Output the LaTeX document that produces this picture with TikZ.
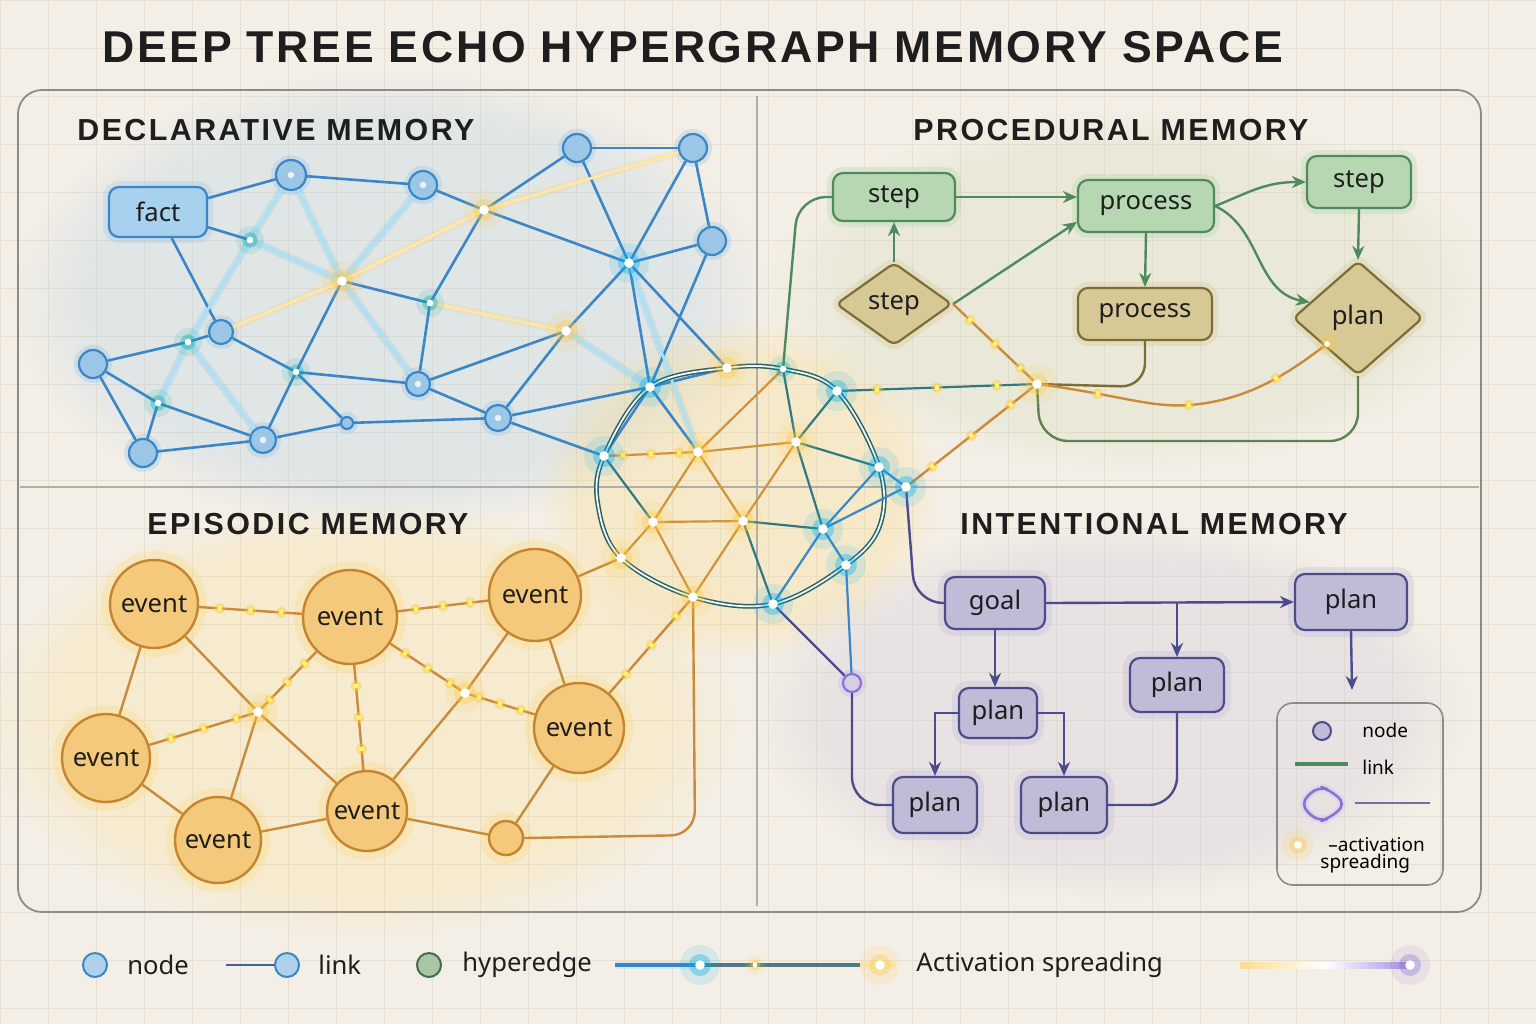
\documentclass[tikz,border=0pt]{standalone}
\usepackage{fontspec}
\setmainfont{Noto Sans}
\newfontfamily\titlefont[LetterSpace=6]{Liberation Sans}
\newfontfamily\sectfont[LetterSpace=8]{Liberation Sans}
\usetikzlibrary{shapes.geometric,arrows.meta,decorations.markings,calc,fadings}

\definecolor{bgc}{HTML}{F4EFE6}
\definecolor{gridc}{HTML}{E7E0D3}
\definecolor{framec}{HTML}{8E8B86}
\definecolor{ink}{HTML}{1E1E1E}
\definecolor{bline}{HTML}{3B86C6}
\definecolor{bfill}{HTML}{9CC6E6}
\definecolor{bfact}{HTML}{A8D0EF}
\definecolor{oline}{HTML}{C98A3A}
\definecolor{efill}{HTML}{F5C97C}
\definecolor{estroke}{HTML}{C5842E}
\definecolor{gold}{HTML}{FFC93C}
\definecolor{tline}{HTML}{2F7A80}
\definecolor{gline}{HTML}{4F8A5E}
\definecolor{gfill}{HTML}{B6D7B1}
\definecolor{tanfill}{HTML}{D6C995}
\definecolor{tanline}{HTML}{7C6D36}
\definecolor{pline}{HTML}{4C4C8C}
\definecolor{pfill}{HTML}{C1BBD7}
\definecolor{pglow}{HTML}{8C70D8}

\tikzset{
  secttitle/.style={anchor=west, inner sep=0pt, text=ink, font=\sectfont\bfseries\fontsize{15.2}{18}\selectfont},
  lbl/.style={font=\fontsize{12.8}{15}\selectfont, text=ink},
  tint/.style={path fading=circle with fuzzy edge 20 percent, fill opacity=#1},
  bnode/.style={circle, draw=bline, fill=bfill, line width=1.1pt, inner sep=0pt,
    preaction={draw=bfill, line width=5pt, opacity=.35}},
  factbox/.style={lbl, draw=bline, fill=bfact, line width=1.1pt, rounded corners=5pt,
    preaction={draw=bfill, line width=6pt, opacity=.3}},
  enode/.style={lbl, circle, draw=estroke, fill=efill, line width=1.2pt, inner sep=0pt,
    preaction={draw=gold!70, line width=9pt, opacity=.3}},
  gbox/.style={lbl, draw=gline, fill=gfill, line width=1.1pt, rounded corners=5pt,
    preaction={draw=gfill, line width=6pt, opacity=.35}},
  tbox/.style={lbl, draw=tanline, fill=tanfill, line width=1.1pt, rounded corners=5pt,
    preaction={draw=tanfill, line width=6pt, opacity=.35}},
  tdiam/.style={lbl, diamond, draw=tanline, fill=tanfill, line width=1.1pt, inner sep=1pt,
    rounded corners=3pt, preaction={draw=tanfill, line width=6pt, opacity=.35}},
  pbox/.style={lbl, draw=pline, fill=pfill, line width=1.1pt, rounded corners=5pt,
    preaction={draw=pfill, line width=7pt, opacity=.35}},
  blink/.style={draw=bline, line width=1.3pt},
  cbright/.style={preaction={draw=cyan!50!bline, line width=4pt, opacity=.12}, draw=white!65!cyan, line width=1.3pt},
  bright/.style={preaction={draw=gold, line width=4pt, opacity=.15}, draw=white!55!gold, line width=1.3pt},
  olink/.style={draw=oline, line width=1.2pt},
  hyO/.style={draw=oline!85!gold, line width=1.1pt},
  hyT/.style={draw=tline, line width=1.1pt},
  hyB/.style={draw=bline, line width=1.1pt},
  glink/.style={draw=gline, line width=1.2pt},
  garrow/.style={draw=gline, line width=1.2pt, -{Stealth[length=7pt,width=6pt]}},
  plink/.style={draw=pline, line width=1.2pt},
  parrow/.style={draw=pline, line width=1.2pt, -{Stealth[length=7pt,width=6pt]}},
  spark/.style={postaction={decorate, decoration={markings,
    mark=between positions 0.2 and 0.9 step 0.3 with {\fill[gold,opacity=.45] (0,0) circle (2.8pt);
      \fill[white!40!yellow] (0,0) circle (1.2pt);}}}},
  pics/glow/.style={code={\fill[#1,opacity=.12] (0,0) circle (10pt);
    \fill[#1,opacity=.35] (0,0) circle (5.5pt); \fill[white] (0,0) circle (2.4pt);}}
}

\begin{document}
\begin{tikzpicture}[x=0.5pt,y=-0.5pt]
\useasboundingbox (0,0) rectangle (1536,1024);
\fill[bgc] (0,0) rectangle (1536,1024);
\draw[gridc, line width=0.35pt, step=24pt] (0,0) grid (1536,1024);

% soft tints of the four regions
\fill[bfill, tint=.22] (390,300) ellipse (190pt and 115pt);
\fill[gold!70, tint=.2] (360,720) ellipse (190pt and 110pt);
\fill[gold!70, tint=.25] (740,490) ellipse (100pt and 85pt);
\fill[gfill!60!tanfill, tint=.2] (1130,290) ellipse (180pt and 90pt);
\fill[pfill, tint=.22] (1110,710) ellipse (180pt and 95pt);

% frame and quadrant dividers
\draw[framec, line width=0.9pt, rounded corners=12pt] (18,90) rectangle (1481,912);
\draw[framec!70, line width=0.8pt] (757,96) -- (757,906);
\draw[framec!70, line width=0.8pt] (20,487) -- (1479,487);

\node[anchor=west, inner sep=0pt, text=ink, font=\titlefont\bfseries\fontsize{22.3}{26}\selectfont] (title) at (102,47) {DEEP TREE ECHO HYPERGRAPH MEMORY SPACE};
\node[secttitle] (tdecl) at (77,130) {DECLARATIVE MEMORY};
\node[secttitle] (tproc) at (913,130) {PROCEDURAL MEMORY};
\node[secttitle] (tepis) at (147,524) {EPISODIC MEMORY};
\node[secttitle] (tinte) at (960,524) {INTENTIONAL MEMORY};

% declarative network
\node[factbox, minimum width=49pt, minimum height=25pt] (fact) at (158,212) {fact};
\foreach \n/\x/\y/\r in {n1/291/175/15, n2/423/185/14, n3/577/148/14, n4/693/148/14, n5/712/241/14,
  n6/93/364/14, n7/221/332/12, n8/143/453/14, n9/263/440/13, n10/418/384/12, n11/498/418/13, n12/347/423/6}
  \node[bnode, minimum size=\r pt] (\n) at (\x,\y) {};
\foreach \n/\x/\y in {g1/250/240, g2/342/281, g3/484/210, g4/629/263, g5/430/303, g6/566/331,
  g7/188/342, g8/296/372, g9/158/403}
  \coordinate (\n) at (\x,\y);

% hypergraph core
\foreach \n/\x/\y in {h1/650/387, h2/727/368, h3/783/369, h4/837/391, h5/604/456, h6/698/452,
  h7/796/442, h8/879/467, h9/906/487, h10/653/522, h11/743/521, h12/823/529, h13/621/558,
  h14/846/565, h15/693/597, h16/773/604}
  \coordinate (\n) at (\x,\y);
\coordinate (J) at (1037,384);

\foreach \a/\b in {fact/n1, fact/n7, fact/g1, n1/n2, n2/g3, g3/n3, n3/n4, n3/g4, n4/g4, n4/n5, n5/g4,
  g3/g4, g3/g5, g5/n10, g2/g5, g4/g6, g2/g8, n6/g7, g7/n7, n6/g9, n6/n8, g9/n8, g9/n9, n7/g8,
  g8/n9, g8/n12, g8/n10, n8/n9, n9/n12, n12/n11, n10/n11, n10/g6, n11/g6, n11/h1, n11/h5,
  n5/h1, g4/h1, g4/h2, h1/h2, h1/h5, h1/h6}
  \draw[blink] (\a) -- (\b);
\foreach \a/\b in {n1/g1, g1/g7, g7/g9, n1/g2, n2/g2, g1/g2, g2/n10, g6/h1, g4/h6, g7/n9}
  \draw[cbright] (\a) -- (\b);
\foreach \a/\b in {g2/g3, g3/n4, g2/n7, g5/g6}
  \draw[bright] (\a) -- (\b);

\draw[tline!80!black, line width=2.4pt] plot[smooth cycle, tension=.6]
  coordinates {(h2) (h3) (h4) (h8) (880,525) (h14) (h16) (h15) (h13) (598,505) (h5) (h1)};
\draw[bgc!60!white, line width=0.9pt] plot[smooth cycle, tension=.6]
  coordinates {(h2) (h3) (h4) (h8) (880,525) (h14) (h16) (h15) (h13) (598,505) (h5) (h1)};

\foreach \a/\b in {h3/h6, h6/h7, h6/h10, h6/h11, h7/h11, h10/h11, h10/h13, h10/h15, h11/h15}
  \draw[hyO] (\a) -- (\b);
\draw[hyO, spark] (h5) -- (h6);
\foreach \a/\b in {h3/h7, h4/h7, h7/h8, h7/h12, h11/h12, h11/h16, h5/h10}
  \draw[hyT] (\a) -- (\b);
\foreach \a/\b in {h8/h12, h9/h12, h8/h9, h12/h16, h12/h14}
  \draw[hyB] (\a) -- (\b);

% episodic network
\foreach \n/\x/\y/\r in {e1/154/604/44, e2/350/617/47, e3/535/595/46, e4/106/758/44,
  e5/579/728/45, e6/218/840/43, e7/367/811/40}
  \node[enode, minimum size=\r pt] (\n) at (\x,\y) {event};
\node[enode, minimum size=17pt] (s1) at (506,838) {};
\coordinate (j1) at (258,712);
\coordinate (j2) at (465,693);
\foreach \a/\b in {e1/e4, e1/j1, j1/e6, j1/e7, e3/j2, j2/e7, e3/e5, e4/e6, e6/e7, e7/s1, e5/s1, e3/h13}
  \draw[olink] (\a) -- (\b);
\foreach \a/\b in {e1/e2, e2/e3, e2/j1, e4/j1, e2/e7, e2/j2, j2/e5, e5/h15}
  \draw[olink, spark] (\a) -- (\b);
\draw[olink, rounded corners=12pt] (h15) -- (695,835) -- (s1.east);

% procedural flow
\node[gbox, minimum width=61pt, minimum height=24pt] (step1) at (894,197) {step};
\node[gbox, minimum width=68pt, minimum height=26pt] (proc1) at (1146,206) {process};
\node[gbox, minimum width=52pt, minimum height=26pt] (step2) at (1359,182) {step};
\node[tdiam, minimum width=58pt, minimum height=36pt] (stepd) at (894,304) {step};
\node[tbox, minimum width=67pt, minimum height=26pt] (proc2) at (1145,314) {process};
\node[tdiam, minimum width=65pt, minimum height=57pt] (pland) at (1358,318) {plan};

\draw[garrow] (step1.east) -- (step1.east -| proc1.west);
\draw[garrow] (stepd.north) -- (step1.south);
\draw[garrow] (stepd.east) -- ([yshift=-8pt]proc1.west);
\draw[garrow] (proc1.south) -- (proc2.north);
\draw[garrow] (proc1.east) .. controls (1250,192) and (1265,182) .. (step2.west);
\draw[garrow] (proc1.east) .. controls (1262,228) and (1255,292) .. (pland.162);
\draw[garrow] (step2.south) -- (pland.north);

\draw[glink, rounded corners=14pt] (h3) -- (798,197) -- (step1.west);
\draw[hyT, spark] (h4) -- (J);
\draw[olink, spark] (h9) -- (J);
\draw[olink, spark] (stepd.east) -- (J);
\draw[draw=tanline, line width=1.2pt, rounded corners=12pt] (proc2.south) -- (1145,387) -- (J);
\draw[draw=gline!70!tanline, line width=1.2pt, rounded corners=14pt] (J) -- (1040,441) -- (1358,441) -- (pland.south);
\draw[olink, spark] (J) .. controls (1120,395) and (1150,408) .. (1190,405)
  .. controls (1250,400) and (1290,372) .. (1327,344);

% intentional flow
\node[pbox, minimum width=50pt, minimum height=26pt] (goal) at (995,603) {goal};
\node[pbox, minimum width=56pt, minimum height=28pt] (planA) at (1351,602) {plan};
\node[pbox, minimum width=47pt, minimum height=27pt] (planB) at (1177,685) {plan};
\node[pbox, minimum width=39pt, minimum height=25pt] (planC) at (998,713) {plan};
\node[pbox, minimum width=42pt, minimum height=28pt] (planD) at (935,805) {plan};
\node[pbox, minimum width=43pt, minimum height=28pt] (planE) at (1064,805) {plan};
\node[circle, draw=pglow, fill=pfill!70!white, line width=1.1pt, minimum size=9pt, inner sep=0pt,
  preaction={draw=pglow!50, line width=5pt, opacity=.35}] (pn) at (852,683) {};
\coordinate (aend) at (1352,690);

\draw[parrow] (goal.east) -- (planA.west);
\draw[parrow] (planB.north |- goal.east) -- (planB.north);
\draw[parrow] (goal.south) -- (goal.south |- planC.north);
\draw[parrow] (planC.west) -| (planD.north);
\draw[parrow] (planC.east) -| (planE.north);
\draw[plink, rounded corners=14pt] (planE.east) -| (planB.south);
\draw[parrow] (planA.south) -- (aend);
\draw[plink, rounded corners=14pt] (h9) -- (915,603) -- (goal.west);
\draw[plink] (h16) -- (pn);
\draw[hyB] (h14) -- (pn);
\draw[plink, rounded corners=14pt] (pn) -- (852,805) -- (planD.west);

% glowing junctions
\foreach \p in {g2, g3, g6, h2, h6, h7, h10, h11, h13, h15, j1, j2, J}
  \pic at (\p) {glow=gold};
\foreach \p in {g4, h1, h4, h5, h8, h9, h12, h14, h16}
  \pic at (\p) {glow=cyan};
\foreach \p in {g1, g5, g7, g8, g9, h3}
  \pic[scale=.7] at (\p) {glow=cyan!60!green};
\foreach \p in {n1, n2, n9, n10, n11}
  \fill[white, opacity=.8] (\p) circle (1.6pt);
\pic[scale=.6] at (1327,344) {glow=gold};

% legend inside the intentional quadrant
\draw[framec, line width=0.8pt, rounded corners=8pt] (1277,703) rectangle (1443,885);
\node[circle, draw=pline, fill=pfill, line width=1pt, minimum size=9pt, inner sep=0pt] (lnode) at (1322,731) {};
\node[anchor=west, inner sep=0pt, font=\fontsize{9.5}{11}\selectfont] (lnodet) at (1362,730) {node};
\coordinate (llinka) at (1295,764);
\coordinate (llinkb) at (1348,764);
\draw[gline, line width=1.6pt] (llinka) -- (llinkb);
\node[anchor=west, inner sep=0pt, font=\fontsize{9.5}{11}\selectfont] (llinkt) at (1362,767) {link};
\draw[pglow, line width=1.3pt, rounded corners=5pt, preaction={draw=pglow!40, line width=4pt, opacity=.4}]
  (1300,804) -- (1318,786) -- (1330,790) -- (1346,804) -- (1330,818) -- (1318,822) -- cycle;
\coordinate (lhypa) at (1355,803);
\coordinate (lhypb) at (1430,803);
\draw[pline!80, line width=1.3pt] (lhypa) -- (lhypb);
\pic[scale=.8] at (1298,845) {glow=gold};
\node[anchor=west, inner sep=0pt, font=\fontsize{9.5}{11}\selectfont] (lact) at (1328,845) {–activation};
\node[anchor=west, inner sep=0pt, font=\fontsize{9.5}{11}\selectfont] (lspr) at (1320,864) {spreading};

% bottom legend
\node[circle, draw=bline, fill=bfill!80!white, line width=1pt, minimum size=12pt, inner sep=0pt] (bnodec) at (95,965) {};
\node[lbl, anchor=west, inner sep=0pt] (bnodet) at (127,965) {node};
\node[circle, draw=bline, fill=bfill!80!white, line width=1pt, minimum size=12pt, inner sep=0pt] (blinkc) at (287,965) {};
\coordinate (blinka) at (226,965);
\draw[draw=pline!70!bline, line width=1.4pt] (blinka) -- (blinkc);
\node[lbl, anchor=west, inner sep=0pt] (blinkt) at (318,965) {link};
\node[circle, draw=gline!80!black, fill=gfill!80!gray, line width=1pt, minimum size=12pt, inner sep=0pt] (bhypc) at (429,965) {};
\node[lbl, anchor=west, inner sep=0pt] (bhypt) at (462,965) {hyperedge};
\coordinate (ba1) at (615,965);
\coordinate (ba2) at (700,965);
\coordinate (ba3) at (860,965);
\coordinate (ba4) at (895,965);
\draw[bline, line width=1.6pt, preaction={draw=cyan!40, line width=4pt, opacity=.3}] (ba1) -- (ba2);
\draw[tline!60!gray, line width=1.6pt] (ba2) -- (ba3);
\draw[bright] (ba3) -- (ba4);
\pic at (ba2) {glow=cyan};
\pic[scale=.5] at (755,965) {glow=gold};
\pic at (880,965) {glow=gold};
\node[lbl, anchor=west, inner sep=0pt] (bact) at (916,965) {Activation spreading};
\shade[left color=gold!50!bgc, right color=pglow!80, middle color=white] (1240,962) rectangle (1412,968);
\pic at (1410,965) {glow=pglow};
\end{tikzpicture}
\end{document}
